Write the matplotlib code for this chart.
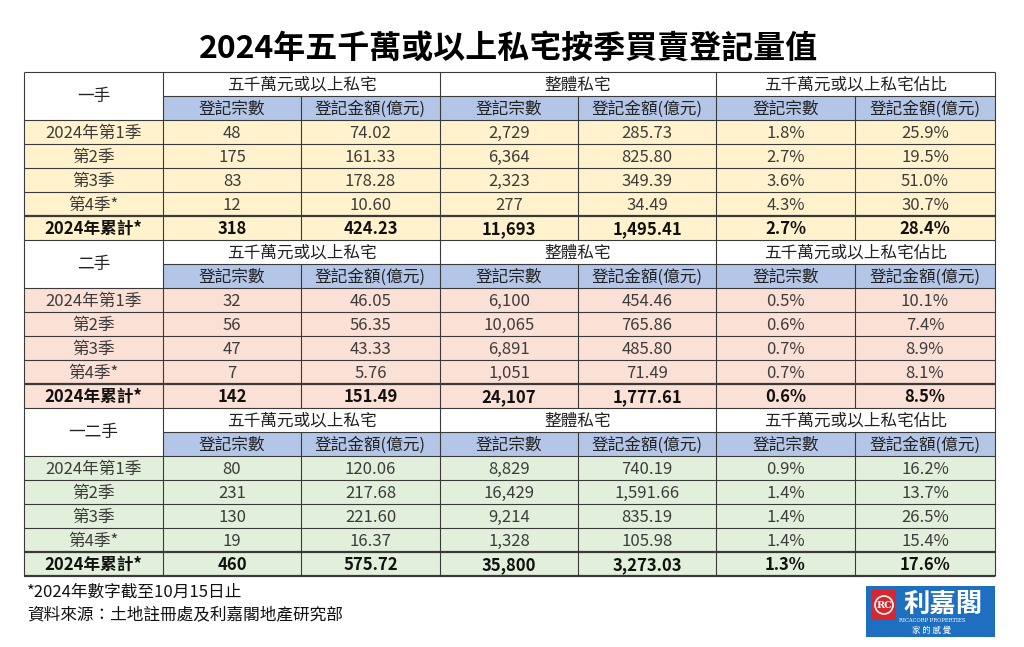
import matplotlib
matplotlib.use("Agg")
import matplotlib.pyplot as plt
from matplotlib.patches import Rectangle, Circle

plt.rcParams['font.family'] = ['Noto Sans CJK TC', 'DejaVu Sans']

# ---- data ----
title = "2024年五千萬或以上私宅按季買賣登記量值"
sections = ["一手", "二手", "一二手"]
groups = ["五千萬元或以上私宅", "整體私宅", "五千萬元或以上私宅佔比"]
sub_headers = ["登記宗數", "登記金額(億元)"]
row_labels = ["2024年第1季", "第2季", "第3季", "第4季*", "2024年累計*"]

# (count >=50M, amount >=50M, count all, amount all, share count %, share amount %)
first_hand = [
    [48, 74.02, 2729, 285.73, 1.8, 25.9],
    [175, 161.33, 6364, 825.80, 2.7, 19.5],
    [83, 178.28, 2323, 349.39, 3.6, 51.0],
    [12, 10.60, 277, 34.49, 4.3, 30.7],
    [318, 424.23, 11693, 1495.41, 2.7, 28.4],
]
second_hand = [
    [32, 46.05, 6100, 454.46, 0.5, 10.1],
    [56, 56.35, 10065, 765.86, 0.6, 7.4],
    [47, 43.33, 6891, 485.80, 0.7, 8.9],
    [7, 5.76, 1051, 71.49, 0.7, 8.1],
    [142, 151.49, 24107, 1777.61, 0.6, 8.5],
]
all_hand = [
    [80, 120.06, 8829, 740.19, 0.9, 16.2],
    [231, 217.68, 16429, 1591.66, 1.4, 13.7],
    [130, 221.60, 9214, 835.19, 1.4, 26.5],
    [19, 16.37, 1328, 105.98, 1.4, 15.4],
    [460, 575.72, 35800, 3273.03, 1.3, 17.6],
]
section_data = [first_hand, second_hand, all_hand]
section_colors = ["#fff2cc", "#fbe0d5", "#e2efda"]
header_blue = "#b4c6e7"

footnotes = ["*2024年數字截至10月15日止", "資料來源：土地註冊處及利嘉閣地產研究部"]

# ---- layout (pixels) ----
W, H = 1024, 647
col_edges = [24, 163, 301, 440, 578, 716, 855, 995]
top = 72
rh = 24
line_c = "#3a3a3a"
fs = 12

fig = plt.figure(figsize=(W / 100, H / 100), dpi=100)
ax = fig.add_axes([0, 0, 1, 1])
ax.set_xlim(0, W)
ax.set_ylim(H, 0)
ax.axis('off')

ax.text(W / 2 - 3, 49, title, ha='center', va='center', fontsize=23,
        fontweight='black', color='black')


def fmt(v, j):
    if j in (0, 2):
        return f"{v:,}"
    if j in (1, 3):
        return f"{v:,.2f}"
    return f"{v:.1f}%"


def hline(y, x0, x1, lw=0.8):
    ax.plot([x0, x1], [y, y], color=line_c, lw=lw, solid_capstyle='butt')


def vline(x, y0, y1, lw=0.8):
    ax.plot([x, x], [y0, y1], color=line_c, lw=lw, solid_capstyle='butt')


for s, name in enumerate(sections):
    y0 = top + s * 7 * rh
    # header rows
    ax.add_patch(Rectangle((col_edges[1], y0 + rh), col_edges[-1] - col_edges[1], rh,
                           facecolor=header_blue, edgecolor='none'))
    ax.text((col_edges[0] + col_edges[1]) / 2, y0 + rh, name, ha='center',
            va='center', fontsize=fs, color='#222222')
    for g, gname in enumerate(groups):
        xa, xb = col_edges[1 + 2 * g], col_edges[3 + 2 * g]
        ax.text((xa + xb) / 2, y0 + rh / 2 + 1, gname, ha='center', va='center',
                fontsize=fs, color='#222222')
        for k, sh in enumerate(sub_headers):
            c0, c1 = col_edges[1 + 2 * g + k], col_edges[2 + 2 * g + k]
            ax.text((c0 + c1) / 2, y0 + 1.5 * rh + 1, sh, ha='center',
                    va='center', fontsize=fs, color='#222222')
    # data rows
    for r, lab in enumerate(row_labels):
        yr = y0 + (2 + r) * rh
        ax.add_patch(Rectangle((col_edges[0], yr), col_edges[-1] - col_edges[0], rh,
                               facecolor=section_colors[s], edgecolor='none'))
        bold = r == len(row_labels) - 1
        ax.text((col_edges[0] + col_edges[1]) / 2, yr + rh / 2 + 1, lab,
                ha='center', va='center', fontsize=fs,
                fontweight='bold' if bold else 'normal',
                color='#111111' if bold else '#3c3c3c')
        for j, v in enumerate(section_data[s][r]):
            ax.text((col_edges[1 + j] + col_edges[2 + j]) / 2, yr + rh / 2 + 1,
                    fmt(v, j), ha='center', va='center', fontsize=fs,
                    fontweight='bold' if bold else 'normal',
                    color='#111111' if bold else '#3c3c3c')
    # grid lines
    hline(y0, col_edges[0], col_edges[-1])
    hline(y0 + rh, col_edges[1], col_edges[-1])
    for r in range(2, 7):
        lw = 1.6 if r == 6 else 0.8
        hline(y0 + r * rh, col_edges[0], col_edges[-1], lw=lw)
    for i, x in enumerate(col_edges):
        if i in (0, 1, 3, 5, 7):
            vline(x, y0, y0 + 7 * rh)
        else:
            vline(x, y0 + rh, y0 + 7 * rh)

hline(top + 21 * rh, col_edges[0], col_edges[-1], lw=1.6)

# footnotes
ax.text(27, 592, footnotes[0], ha='left', va='center', fontsize=12, color='#111111')
ax.text(27, 615, footnotes[1], ha='left', va='center', fontsize=12, color='#111111')

# logo
ax.add_patch(Rectangle((866, 586), 129, 51, facecolor='#1f6fc1', edgecolor='none'))
ax.add_patch(Rectangle((872, 590), 24, 30, facecolor='#d7262e', edgecolor='none'))
ax.add_patch(Circle((884, 605), 9, facecolor='none', edgecolor='white', lw=1.2))
ax.text(884, 605.5, "RC", ha='center', va='center', fontsize=7, color='white',
        fontweight='bold', family=['DejaVu Serif'])
ax.text(943, 604, "利嘉閣", ha='center', va='center', fontsize=19, color='white',
        fontweight='bold', family=['Noto Sans CJK TC'])
ax.text(932, 620, "RICACORP PROPERTIES", ha='center', va='center', fontsize=3.8,
        color='white', family=['DejaVu Serif'])
ax.text(932, 630, "家 的 感 覺", ha='center', va='center', fontsize=6,
        color='white')

fig.savefig("out.png", dpi=100)
